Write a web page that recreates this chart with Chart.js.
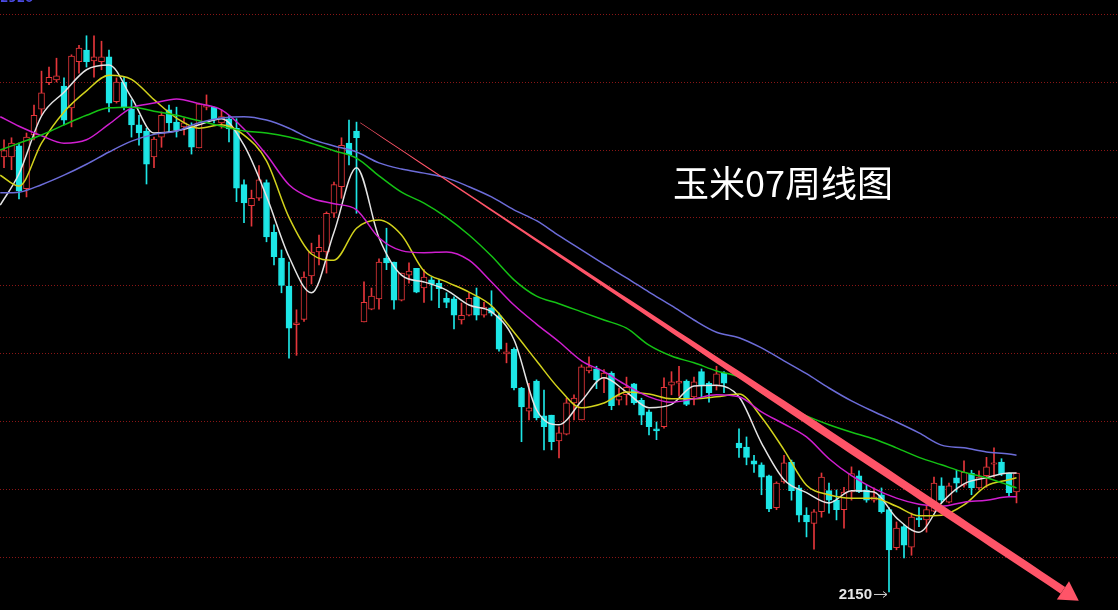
<!DOCTYPE html>
<html>
<head>
<meta charset="utf-8">
<script src="https://cdn.jsdelivr.net/npm/chart.js@4.4.0/dist/chart.umd.min.js"></script>
<style>
  html, body { margin: 0; padding: 0; background: #000; }
  #wrap { width: 1118px; height: 610px; }
</style>
</head>
<body>
<div id="wrap"><canvas id="myChart" width="1118" height="610"></canvas></div>
<script>
// weekly candles, index = week number (97 is the holiday week with no bar)
const opens = [
  2790,2790,2806,2743,2822,2860,2899,2903,2894,2862,
  2930,2947,2931,2930,2937,2871,2900,2860,2837,2828,
  2790,2819,2859,2841,2834,2834,2803,2863,2863,2840,
  2846,2832,2749,2718,2729,2752,2679,2641,2600,2543,
  2551,2615,2650,2650,2707,2746,2810,2828,2547,2566,
  2581,2641,2635,2579,2616,2626,2597,2609,2604,2582,
  2581,2550,2557,2584,2557,2568,2556,2500,2507,2450,
  2416,2460,2409,2410,2372,2382,2428,2403,2475,2478,
  2465,2472,2432,2440,2456,2432,2415,2390,2393,2454,
  2457,2460,2437,2474,2457,2453,2472,null,2369,2363,
  2343,2337,2321,2274,2312,2341,2303,2263,2251,2268,
  2299,2285,2271,2297,2321,2300,2285,2293,2271,2215,
  2246,2216,2259,2256,2269,2306,2282,2318,2307,2325,
  2303,2321,2338,2341,2325,2297
];
const highs = [
  2815,2818,2810,2825,2866,2916,2922,2935,2906,2940,
  2954,2968,2968,2960,2947,2906,2907,2874,2851,2832,
  2819,2856,2866,2863,2847,2840,2869,2881,2863,2859,
  2851,2846,2756,2741,2777,2756,2690,2653,2635,2565,
  2621,2663,2675,2709,2753,2818,2844,2841,2606,2597,
  2640,2685,2635,2619,2634,2626,2624,2613,2609,2590,
  2584,2575,2590,2597,2576,2593,2560,2516,2509,2451,
  2457,2462,2447,2410,2393,2435,2440,2484,2496,2482,
  2477,2474,2450,2466,2457,2435,2418,2400,2465,2474,
  2482,2462,2466,2478,2459,2482,2474,null,2390,2378,
  2351,2340,2322,2312,2351,2344,2307,2274,2271,2325,
  2310,2300,2304,2334,2328,2307,2303,2303,2274,2253,
  2249,2266,2274,2278,2319,2318,2310,2329,2343,2329,
  2328,2348,2362,2346,2325,2325
];
const lows = [
  2774,2771,2728,2731,2815,2851,2896,2900,2837,2834,
  2913,2922,2907,2918,2856,2869,2859,2819,2807,2750,
  2774,2804,2826,2819,2822,2794,2803,2859,2840,2832,
  2812,2724,2693,2688,2726,2665,2631,2590,2494,2498,
  2548,2603,2631,2619,2701,2729,2778,2707,2547,2565,
  2566,2624,2566,2578,2604,2590,2576,2579,2568,2568,
  2537,2544,2556,2550,2554,2556,2504,2487,2447,2371,
  2403,2403,2359,2359,2347,2381,2403,2403,2472,2449,
  2443,2418,2425,2425,2426,2396,2381,2374,2391,2440,
  2438,2424,2425,2437,2429,2447,2443,null,2348,2337,
  2326,2293,2268,2271,2310,2285,2253,2231,2213,2260,
  2266,2256,2244,2285,2296,2282,2282,2266,2150,2212,
  2200,2204,2246,2238,2268,2281,2281,2297,2304,2293,
  2300,2304,2319,2321,2290,2281
];
const closes = [
  2799,2810,2740,2819,2851,2884,2907,2909,2844,2938,
  2950,2930,2937,2937,2869,2900,2863,2837,2825,2779,
  2816,2851,2840,2829,2840,2804,2868,2866,2846,2849,
  2831,2744,2722,2729,2756,2672,2643,2601,2538,2546,
  2613,2650,2657,2707,2749,2807,2793,2818,2576,2585,
  2635,2634,2579,2619,2622,2591,2613,2603,2596,2576,
  2557,2557,2582,2557,2569,2560,2507,2503,2450,2422,
  2421,2406,2393,2371,2384,2428,2435,2481,2481,2462,
  2472,2424,2438,2451,2428,2410,2393,2387,2451,2459,
  2460,2426,2459,2454,2443,2471,2457,null,2362,2348,
  2338,2319,2272,2310,2340,2299,2263,2253,2268,2319,
  2285,2271,2297,2324,2297,2285,2290,2268,2212,2244,
  2219,2260,2256,2271,2310,2285,2306,2310,2326,2303,
  2319,2334,2340,2324,2296,2325
];

// moving average lines at these week positions
const maIdx = [-0.5, 2, 5, 8, 11, 14, 17, 20, 23, 26, 29, 32, 35, 38, 41, 44, 47, 50, 53, 56,
  59, 62, 65, 68, 71, 74, 77, 80, 83, 86, 89, 92, 95, 98, 101, 104, 107, 110, 113, 116,
  119, 122, 125, 128, 131, 134, 135];
const maWhite = [2719,2765,2850,2885,2918,2925,2877,2825,2828,2837,2846,2807,2732,2643,2590,2679,2774,2671,2616,2606,
  2594,2572,2562,2521,2418,2396,2431,2465,2444,2421,2426,2453,2454,2437,2369,2315,2296,2281,2299,2297,
  2259,2238,2281,2309,2318,2325,2325];
const maYellow = [2763,2747,2810,2856,2887,2910,2904,2874,2847,2832,2837,2822,2784,2701,2647,2638,2685,2697,2675,2622,
  2606,2591,2571,2532,2490,2449,2421,2428,2444,2441,2434,2434,2437,2441,2407,2359,2307,2293,2288,2288,
  2276,2262,2263,2278,2306,2315,2318];
const maMagenta = [2849,2835,2821,2810,2815,2838,2862,2869,2875,2868,2859,2831,2793,2749,2729,2721,2712,2671,2652,2649,
  2650,2638,2606,2572,2544,2518,2490,2474,2454,2437,2429,2434,2440,2437,2415,2397,2378,2346,2321,2302,
  2288,2279,2276,2282,2285,2290,2290];
const maGreen = [2800,2810,2822,2837,2851,2862,2863,2857,2851,2843,2835,2828,2825,2819,2810,2799,2788,2762,2738,2722,
  2701,2675,2644,2609,2585,2574,2562,2550,2538,2513,2497,2487,2475,2466,2443,2425,2409,2396,2385,2375,
  2362,2348,2337,2326,2318,2307,2303];
const maBlue = [2737,2738,2749,2763,2779,2797,2813,2823,2828,2840,2847,2849,2844,2832,2816,2806,2797,2781,2772,2766,
  2759,2746,2731,2712,2696,2674,2653,2632,2612,2591,2571,2550,2532,2524,2509,2490,2471,2450,2431,2415,
  2400,2384,2366,2362,2356,2353,2351];

const gridPrices = [2200, 2300, 2400, 2500, 2600, 2700, 2800, 2900, 3000];
const title = '玉米07周线图';
const topLabel = '2920';
const lowLabel = '2150';
const lowWeek = 118;
// hand-drawn trend arrow, in (week, price)
const trendFrom = { x: 47.5, y: 2840 };
const trendTo = { x: 143.3, y: 2137 };

const upColor = '#e4363a';
const downColor = '#1de6e6';

const wickData = [], bodyData = [], wickColors = [], bodyFill = [], bodyBorder = [];
opens.forEach((o, i) => {
  if (o === null) return;
  const up = closes[i] >= o;
  wickData.push({ x: i, y: [lows[i], highs[i]] });
  bodyData.push({ x: i, y: [o, closes[i]] });
  wickColors.push(up ? upColor : downColor);
  bodyFill.push(up ? '#000' : downColor);
  bodyBorder.push(up ? upColor : downColor);
});

function maLine(vals, color) {
  return {
    type: 'line',
    data: maIdx.map((x, k) => ({ x: x, y: vals[k] })),
    borderColor: color,
    borderWidth: 1.5,
    pointRadius: 0,
    cubicInterpolationMode: 'monotone',
    order: 0
  };
}

const overlay = {
  id: 'overlay',
  afterDatasetsDraw(chart) {
    const { ctx, scales: { x, y } } = chart;
    ctx.save();

    // tapered trend arrow
    const p0 = { x: x.getPixelForValue(trendFrom.x), y: y.getPixelForValue(trendFrom.y) };
    const p1 = { x: x.getPixelForValue(trendTo.x), y: y.getPixelForValue(trendTo.y) };
    const dx = p1.x - p0.x, dy = p1.y - p0.y, len = Math.hypot(dx, dy);
    const ux = dx / len, uy = dy / len, nx = -uy, ny = ux;
    const headLen = 19, headHalf = 11;
    const bx = p1.x - ux * headLen, by = p1.y - uy * headLen;
    const left = [], right = [];
    for (let s = 0; s <= 60; s++) {
      const t = s / 60;
      const px = p0.x + (bx - p0.x) * t, py = p0.y + (by - p0.y) * t;
      const w = Math.min(8, 0.6 + 7.4 * Math.pow(t / 0.65, 1.5)) / 2;
      left.push([px + nx * w, py + ny * w]);
      right.push([px - nx * w, py - ny * w]);
    }
    ctx.fillStyle = '#ff5468';
    ctx.beginPath();
    left.forEach((p, k) => k ? ctx.lineTo(p[0], p[1]) : ctx.moveTo(p[0], p[1]));
    right.reverse().forEach(p => ctx.lineTo(p[0], p[1]));
    ctx.closePath();
    ctx.fill();
    ctx.beginPath();
    ctx.moveTo(p1.x, p1.y);
    ctx.lineTo(bx + nx * headHalf, by + ny * headHalf);
    ctx.lineTo(bx - nx * headHalf, by - ny * headHalf);
    ctx.closePath();
    ctx.fill();

    // low price marker
    const lx = x.getPixelForValue(lowWeek), ly = y.getPixelForValue(lows[lowWeek]);
    ctx.font = 'bold 15px "Liberation Sans", Arial, sans-serif';
    ctx.fillStyle = '#e6e6e6';
    ctx.textAlign = 'right';
    ctx.textBaseline = 'alphabetic';
    ctx.fillText(lowLabel, lx - 17, ly + 7);
    ctx.strokeStyle = '#d0d0d0';
    ctx.lineWidth = 1;
    ctx.beginPath();
    ctx.moveTo(lx - 15, ly + 2.5);
    ctx.lineTo(lx - 2, ly + 2.5);
    ctx.moveTo(lx - 6, ly - 0.5);
    ctx.lineTo(lx - 2, ly + 2.5);
    ctx.lineTo(lx - 6, ly + 5.5);
    ctx.stroke();

    // top-left price (cut off by the frame)
    ctx.font = 'bold 12px "DejaVu Sans", sans-serif';
    ctx.fillStyle = '#4a4ae0';
    ctx.textAlign = 'left';
    ctx.fillText(topLabel, 0, 2);

    // title
    ctx.font = '36px "Noto Sans CJK SC", sans-serif';
    ctx.fillStyle = '#ffffff';
    ctx.fillText(title, 673, 197);

    ctx.restore();
  }
};

const xMin = -4 / 7.5;
const xMax = xMin + 1118 / 7.5;

const ctx = document.getElementById('myChart').getContext('2d');
const myChart = new Chart(ctx, {
  type: 'bar',
  data: {
    datasets: [
      maLine(maBlue, '#6c6cd8'),
      maLine(maGreen, '#14c214'),
      maLine(maMagenta, '#d01ed0'),
      maLine(maYellow, '#d2d21c'),
      maLine(maWhite, '#e4e4e4'),
      {
        // candle bodies, hollow when up
        data: bodyData,
        backgroundColor: bodyFill,
        borderColor: bodyBorder,
        borderWidth: 1,
        borderSkipped: false,
        barThickness: 6,
        minBarLength: 1,
        grouped: false,
        order: 1
      },
      {
        // wicks
        data: wickData,
        backgroundColor: wickColors,
        borderWidth: 0,
        barThickness: 1,
        grouped: false,
        order: 2
      }
    ]
  },
  options: {
    responsive: false,
    animation: false,
    layout: { padding: 0 },
    plugins: {
      legend: { display: false },
      tooltip: { enabled: false }
    },
    scales: {
      x: { type: 'linear', min: xMin, max: xMax, display: false, offset: false },
      y: {
        min: 2123.5,
        max: 3020.6,
        afterBuildTicks: (scale) => { scale.ticks = gridPrices.map(v => ({ value: v })); },
        ticks: { display: false },
        grid: { color: '#8a1616', lineWidth: 1, drawTicks: false },
        border: { display: false, dash: [1, 2] }
      }
    }
  },
  plugins: [overlay]
});
</script>
</body>
</html>
